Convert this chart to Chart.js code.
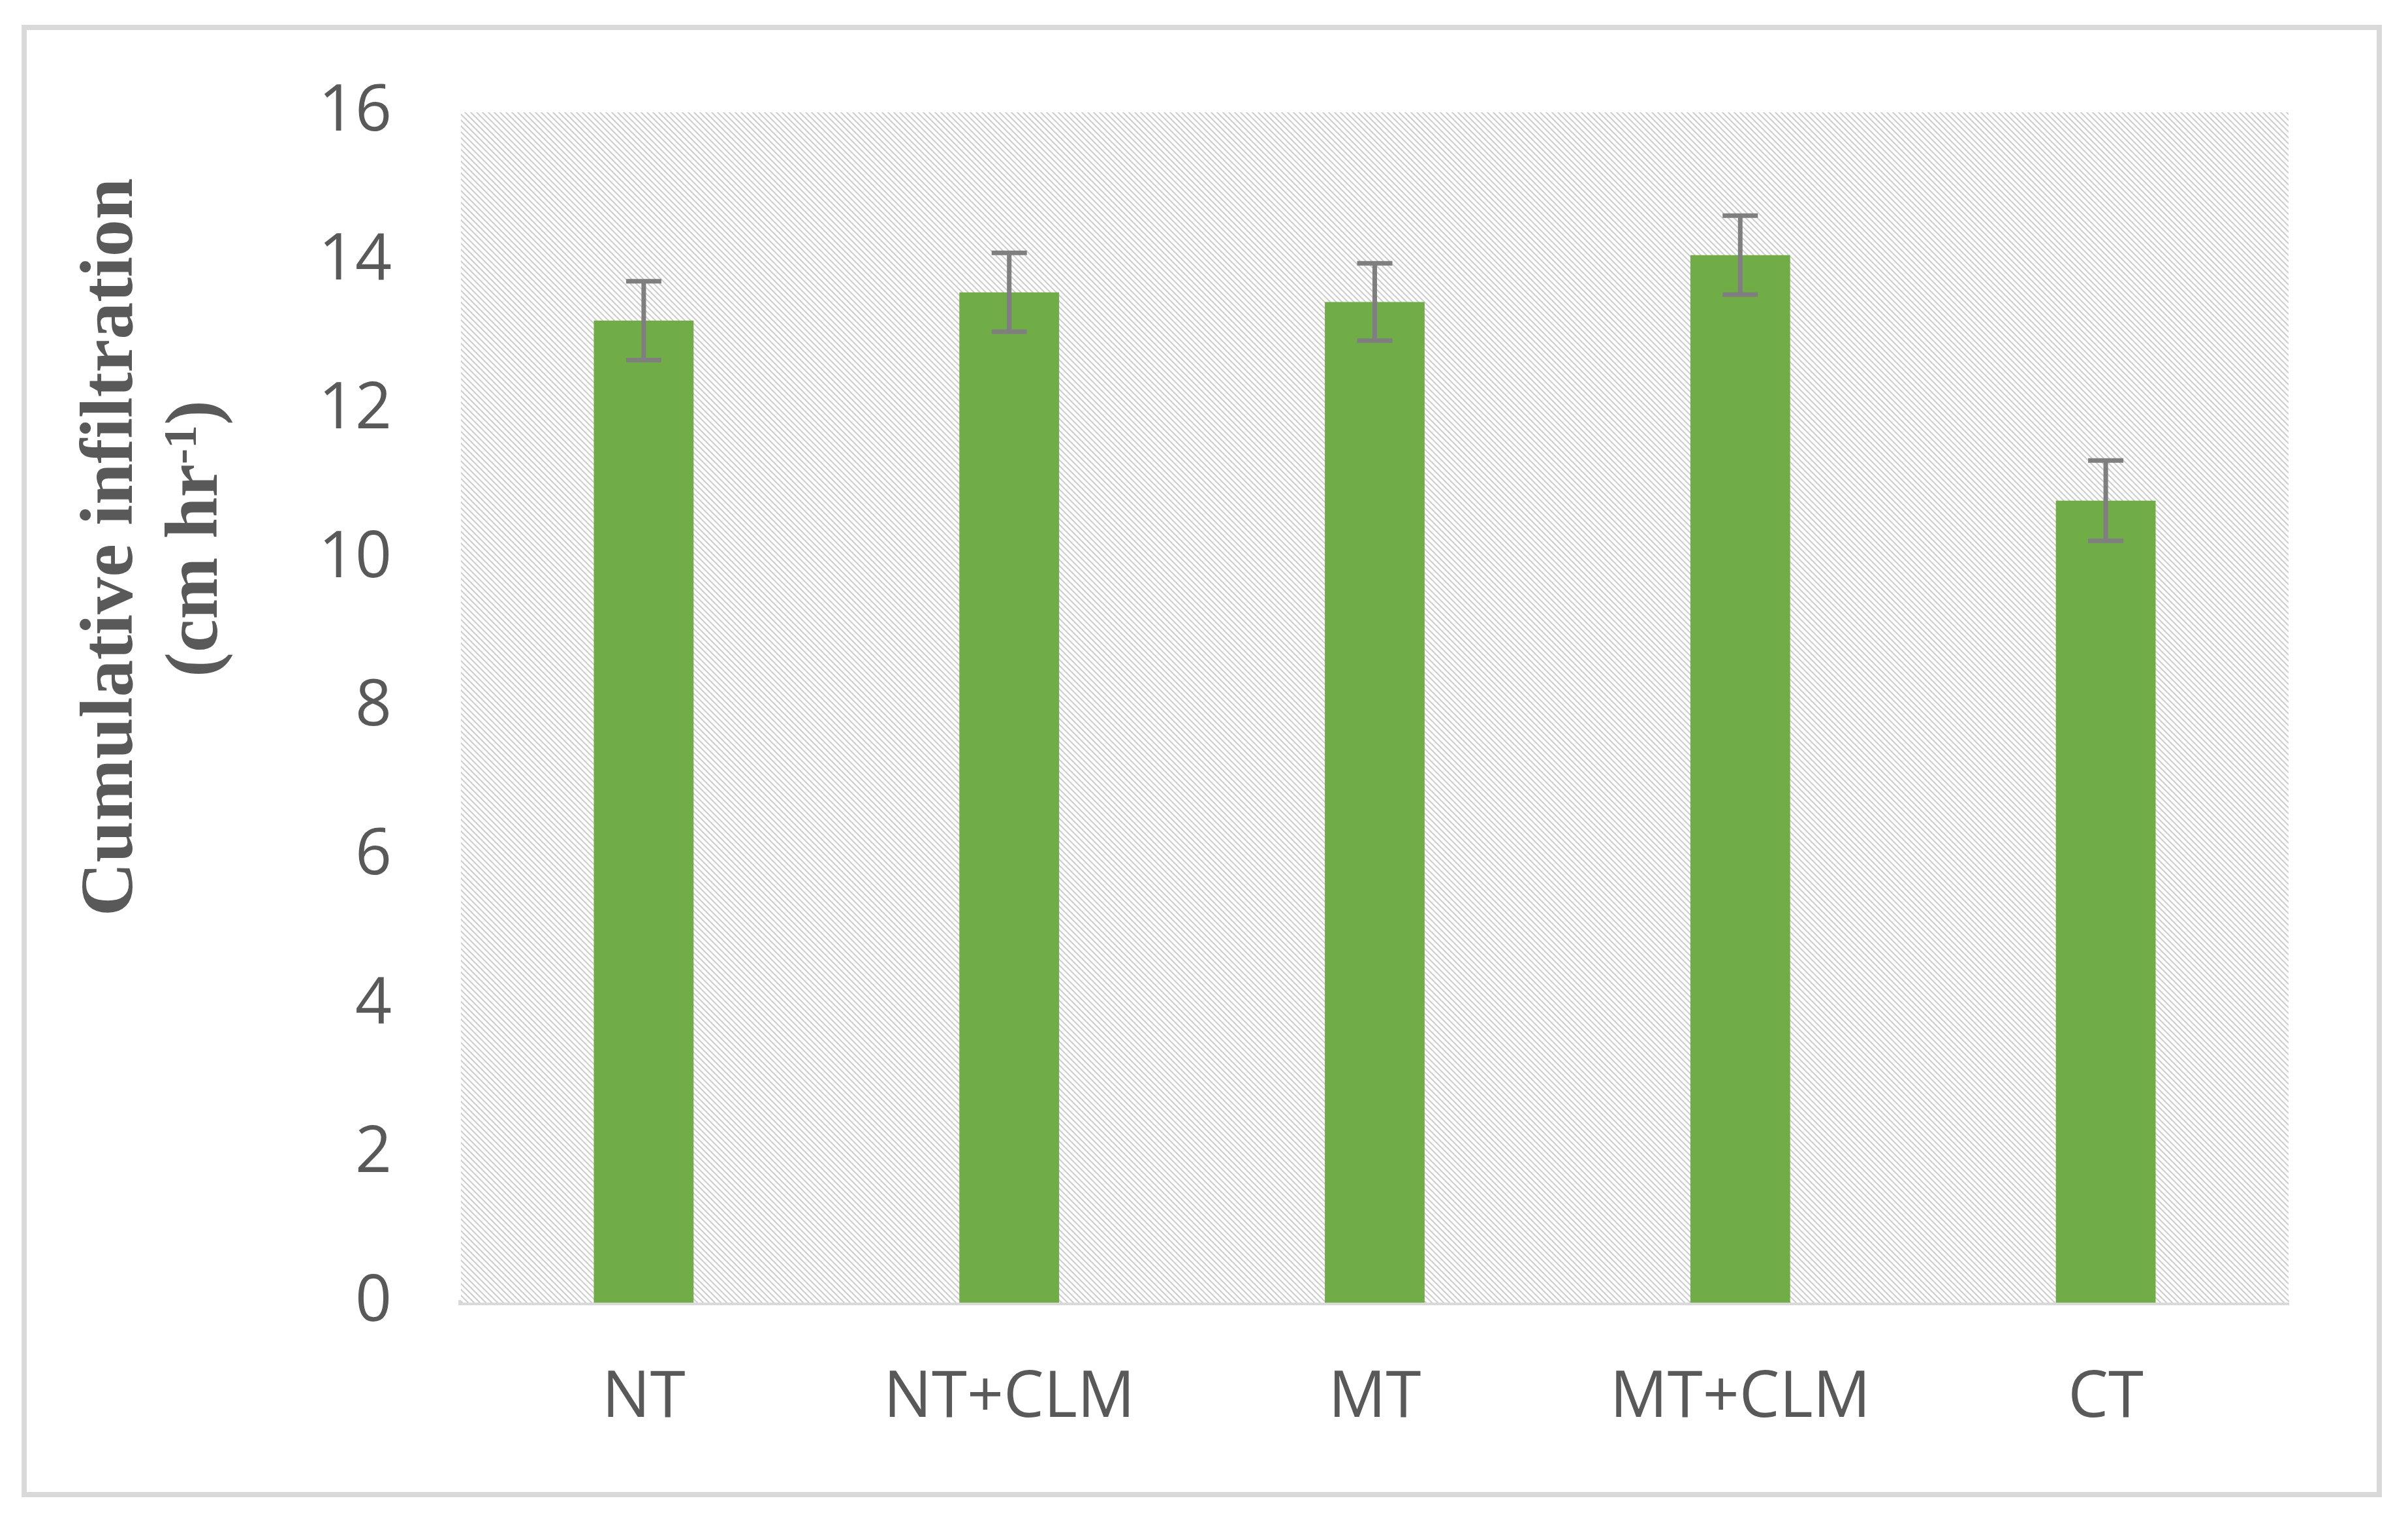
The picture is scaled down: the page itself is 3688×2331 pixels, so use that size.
<!DOCTYPE html>
<html>
<head>
<meta charset="utf-8">
<script src="https://cdn.jsdelivr.net/npm/chart.js@4.4.1/dist/chart.umd.min.js"></script>
<style>
  html, body { margin: 0; padding: 0; background: #fff; }
  #frame { position: absolute; left: 33px; top: 38px; width: 3615px; height: 2255px; box-sizing: border-box; border: 8px solid #d9d9d9; }
  #chart { position: absolute; left: 0; top: 0; }
</style>
</head>
<body>
<div id="frame"></div>
<canvas id="chart" width="3688" height="2331"></canvas>
<script>
// values
const categories = ['NT', 'NT+CLM', 'MT', 'MT+CLM', 'CT'];
const infiltration = [13.2, 13.58, 13.45, 14.08, 10.78];
const errors = [0.53, 0.53, 0.52, 0.53, 0.54];
const yTicks = [0, 2, 4, 6, 8, 10, 12, 14, 16];
const yTitle = ['Cumulative infiltration', '(cm hr', '-1', ')'];

const textColor = '#595959';

// diagonal hatch behind the bars
const makeHatch = (ctx) => {
  const s = 9;
  const tile = document.createElement('canvas');
  tile.width = s;
  tile.height = s;
  const t = tile.getContext('2d');
  t.fillStyle = '#ffffff';
  t.fillRect(0, 0, s, s);
  t.strokeStyle = '#cdcdcd';
  t.lineWidth = 2;
  t.beginPath();
  t.moveTo(-1, -1); t.lineTo(s + 1, s + 1);
  t.moveTo(-1, s - 1); t.lineTo(1, s + 1);
  t.moveTo(s - 1, -1); t.lineTo(s + 1, 1);
  t.stroke();
  return ctx.createPattern(tile, 'repeat');
};

const hatchPlugin = {
  id: 'hatch',
  beforeDatasetsDraw(chart) {
    const { ctx, chartArea: a } = chart;
    ctx.save();
    ctx.fillStyle = makeHatch(ctx);
    ctx.fillRect(a.left, a.top, a.right - a.left, a.bottom - a.top);
    ctx.restore();
  }
};

const errorBarPlugin = {
  id: 'errorBars',
  afterDatasetsDraw(chart) {
    const ctx = chart.ctx;
    const y = chart.scales.y;
    const meta = chart.getDatasetMeta(0);
    ctx.save();
    ctx.strokeStyle = '#7f7f7f';
    ctx.lineWidth = 7;
    meta.data.forEach((bar, i) => {
      const top = y.getPixelForValue(infiltration[i] + errors[i]);
      const bottom = y.getPixelForValue(infiltration[i] - errors[i]);
      const half = 27;
      ctx.beginPath();
      ctx.moveTo(bar.x, top); ctx.lineTo(bar.x, bottom);
      ctx.moveTo(bar.x - half, top); ctx.lineTo(bar.x + half, top);
      ctx.moveTo(bar.x - half, bottom); ctx.lineTo(bar.x + half, bottom);
      ctx.stroke();
    });
    ctx.restore();
  }
};

// two-line rotated axis title with a superscript
const yTitlePlugin = {
  id: 'yTitle',
  afterDraw(chart) {
    const ctx = chart.ctx;
    const main = 'bold 114px "Liberation Serif"';
    const sup = 'bold 72px "Liberation Serif"';
    ctx.save();
    ctx.fillStyle = textColor;
    ctx.textBaseline = 'alphabetic';
    ctx.textAlign = 'center';
    ctx.font = main;
    ctx.translate(202, 838);
    ctx.rotate(-Math.PI / 2);
    ctx.fillText(yTitle[0], 0, 0);
    ctx.restore();

    ctx.save();
    ctx.fillStyle = textColor;
    ctx.textBaseline = 'alphabetic';
    ctx.textAlign = 'left';
    ctx.translate(332, 825);
    ctx.rotate(-Math.PI / 2);
    ctx.font = main;
    const w1 = ctx.measureText(yTitle[1]).width;
    const w3 = ctx.measureText(yTitle[3]).width;
    ctx.font = sup;
    const w2 = ctx.measureText(yTitle[2]).width;
    let x = -(w1 + w2 + w3) / 2;
    ctx.font = main;
    ctx.fillText(yTitle[1], x, 0);
    x += w1;
    ctx.font = sup;
    ctx.fillText(yTitle[2], x, -32);
    x += w2;
    ctx.font = main;
    ctx.fillText(yTitle[3], x, 0);
    ctx.restore();
  }
};

new Chart(document.getElementById('chart'), {
  type: 'bar',
  data: {
    labels: categories,
    datasets: [{
      data: infiltration,
      backgroundColor: '#70ad47',
      borderWidth: 0,
      categoryPercentage: 1,
      barPercentage: 0.273
    }]
  },
  options: {
    responsive: false,
    animation: false,
    devicePixelRatio: 1,
    layout: { padding: { left: 0, top: 172, right: 183, bottom: 0 } },
    plugins: {
      legend: { display: false },
      tooltip: { enabled: false }
    },
    scales: {
      x: {
        z: 1,
        grid: { display: false, drawTicks: false },
        border: { display: true, color: '#d9d9d9', width: 8 },
        ticks: {
          color: textColor,
          padding: 88,
          font: { family: '"Open Sans"', size: 98 }
        },
        afterFit: (s) => { s.height = 2331 - 1995; }
      },
      y: {
        min: 0,
        max: 16,
        grid: { display: false, drawTicks: false },
        border: { display: false },
        afterBuildTicks: (s) => { s.ticks = yTicks.map(v => ({ value: v })); },
        ticks: {
          color: textColor,
          padding: 106,
          font: { family: '"Open Sans"', size: 98 }
        },
        afterFit: (s) => { s.width = 706; }
      }
    }
  },
  plugins: [hatchPlugin, errorBarPlugin, yTitlePlugin]
});
</script>
</body>
</html>
